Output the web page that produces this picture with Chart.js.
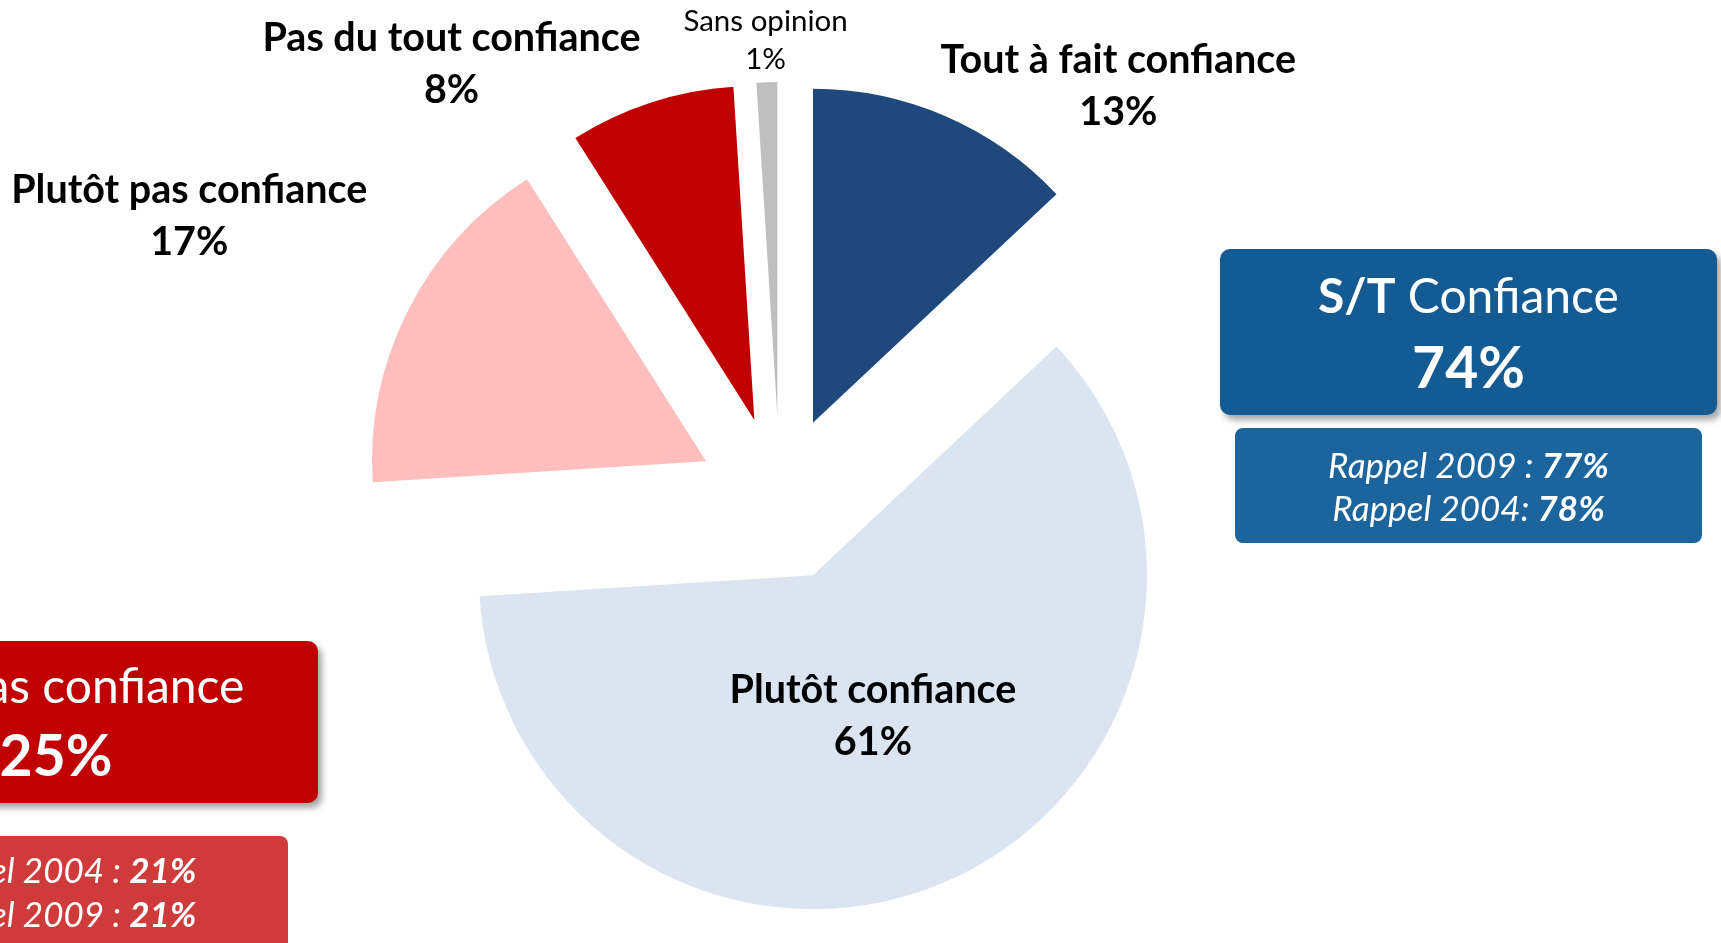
<!DOCTYPE html>
<html><head><meta charset="utf-8">
<script src="https://cdn.jsdelivr.net/npm/chart.js@4.4.1/dist/chart.umd.min.js"></script>
<style>
html,body{margin:0;padding:0;background:#fff;width:1721px;height:943px;overflow:hidden;font-family:Lato,'Open Sans',sans-serif;}
#c{position:absolute;left:0;top:0;}
.box{position:absolute;color:#fff;}
.line{position:absolute;left:0;right:0;text-align:center;white-space:nowrap;transform:translateY(-50%);line-height:1;}
</style></head><body>
<canvas id="c" width="1721" height="943"></canvas>
<div id="boxes"></div>
<script>
// ---- data ----
const categories = ['Tout à fait confiance', 'Plutôt confiance', 'Plutôt pas confiance', 'Pas du tout confiance', 'Sans opinion'];
const values = [13, 61, 17, 8, 1];
const sliceColors = ['#1F497D', '#DBE5F1', '#FFBEBE', '#C00000', '#BFBFBF'];

const groupPrefix = ['S/T', 'S/T'];
const groupNames = ['Confiance', 'Pas confiance'];
const groupValues = [74, 25];
const recallYearsA = ['2009', '2004'];
const recallValuesA = [77, 21];
const recallYearsB = ['2004', '2009'];
const recallValuesB = [78, 21];

// ---- style / layout ----
const EXPLODE = 83;
const RADIUS = 334;
const LABEL_LAYOUT = [
  {dist: 512, dx: 135, dy: 57, size: 39.5, weight: 'bold', gap: 52},
  {dist: 234, dx: 0, dy: 3, size: 39.5, weight: 'bold', gap: 52},
  {dist: 654, dx: -8, dy: 14, size: 39.5, weight: 'bold', gap: 52},
  {dist: 516, dx: -169, dy: 56, size: 39.5, weight: 'bold', gap: 52},
  {dist: 460, dx: 0, dy: 1, size: 29.5, weight: 'normal', gap: 38}
];
const BOX_LAYOUT = [
  {main: {left: 1220, top: 249, width: 497, height: 166, bg: '#145B93'},
   sub: {left: 1235, top: 428, width: 467, height: 115, bg: '#1C649C'},
   l1: 46, l2: 117, s1: 36, s2: 79},
  {main: {left: -206, top: 641, width: 524, height: 162, bg: '#C00000'},
   sub: {left: -176, top: 836, width: 464, height: 130, bg: '#CF3B3B'},
   l1: 44, l2: 113, s1: 33, s2: 77}
];

// ---- summary boxes ----
const boxesEl = document.getElementById('boxes');
BOX_LAYOUT.forEach((L, i) => {
  const m = document.createElement('div');
  m.className = 'box';
  Object.assign(m.style, {left: L.main.left + 'px', top: L.main.top + 'px', width: L.main.width + 'px',
    height: L.main.height + 'px', background: L.main.bg, borderRadius: '10px',
    boxShadow: '4px 5px 6px rgba(0,0,0,0.35)'});
  m.innerHTML = '<div class="line" style="top:' + L.l1 + 'px;font-size:48px"><b>' + groupPrefix[i] + '</b> ' + groupNames[i] + '</div>' +
                '<div class="line" style="top:' + L.l2 + 'px;font-size:57px;font-weight:bold">' + groupValues[i] + '%</div>';
  boxesEl.appendChild(m);
  const s = document.createElement('div');
  s.className = 'box';
  Object.assign(s.style, {left: L.sub.left + 'px', top: L.sub.top + 'px', width: L.sub.width + 'px',
    height: L.sub.height + 'px', background: L.sub.bg, borderRadius: '8px'});
  const sep = (i === 0) ? [' : ', ': '] : [' : ', ' : '];
  s.innerHTML = '<div class="line" style="top:' + L.s1 + 'px;font-size:35px;font-style:italic">Rappel ' + recallYearsA[i] + sep[0] + '<b>' + recallValuesA[i] + '%</b></div>' +
                '<div class="line" style="top:' + L.s2 + 'px;font-size:35px;font-style:italic">Rappel ' + recallYearsB[i] + sep[1] + '<b>' + recallValuesB[i] + '%</b></div>';
  boxesEl.appendChild(s);
});

// ---- chart ----
const explodePlugin = {
  id: 'explode',
  beforeDatasetDraw(chart, args) {
    const ctx = chart.ctx;
    args.meta.data.forEach(arc => {
      const mid = (arc.startAngle + arc.endAngle) / 2;
      ctx.save();
      ctx.translate(Math.cos(mid) * EXPLODE, Math.sin(mid) * EXPLODE);
      arc.draw(ctx);
      ctx.restore();
    });
    return false;
  }
};
const labelPlugin = {
  id: 'sliceLabels',
  afterDatasetsDraw(chart) {
    const ctx = chart.ctx;
    const meta = chart.getDatasetMeta(0);
    meta.data.forEach((arc, i) => {
      const L = LABEL_LAYOUT[i];
      const mid = (arc.startAngle + arc.endAngle) / 2;
      const x = arc.x + Math.cos(mid) * L.dist + L.dx;
      const y = arc.y + Math.sin(mid) * L.dist + L.dy;
      ctx.save();
      ctx.fillStyle = '#000';
      ctx.textAlign = 'center';
      ctx.textBaseline = 'middle';
      ctx.font = L.weight + ' ' + L.size + 'px Lato, "Open Sans", sans-serif';
      ctx.fillText(chart.data.labels[i], x, y - L.gap / 2);
      ctx.fillText(chart.data.datasets[0].data[i] + '%', x, y + L.gap / 2);
      ctx.restore();
    });
  }
};

function build() {
  new Chart(document.getElementById('c'), {
    type: 'pie',
    data: {
      labels: categories,
      datasets: [{data: values, backgroundColor: sliceColors, borderWidth: 0}]
    },
    options: {
      responsive: false,
      animation: false,
      events: [],
      radius: RADIUS,
      layout: {padding: {left: 0, right: 161, top: 55, bottom: 0}},
      plugins: {legend: {display: false}, tooltip: {enabled: false}}
    },
    plugins: [explodePlugin, labelPlugin]
  });
}
Promise.all([
  document.fonts.load('bold 39px Lato'),
  document.fonts.load('29px Lato')
]).then(build, build);
</script>
</body></html>
